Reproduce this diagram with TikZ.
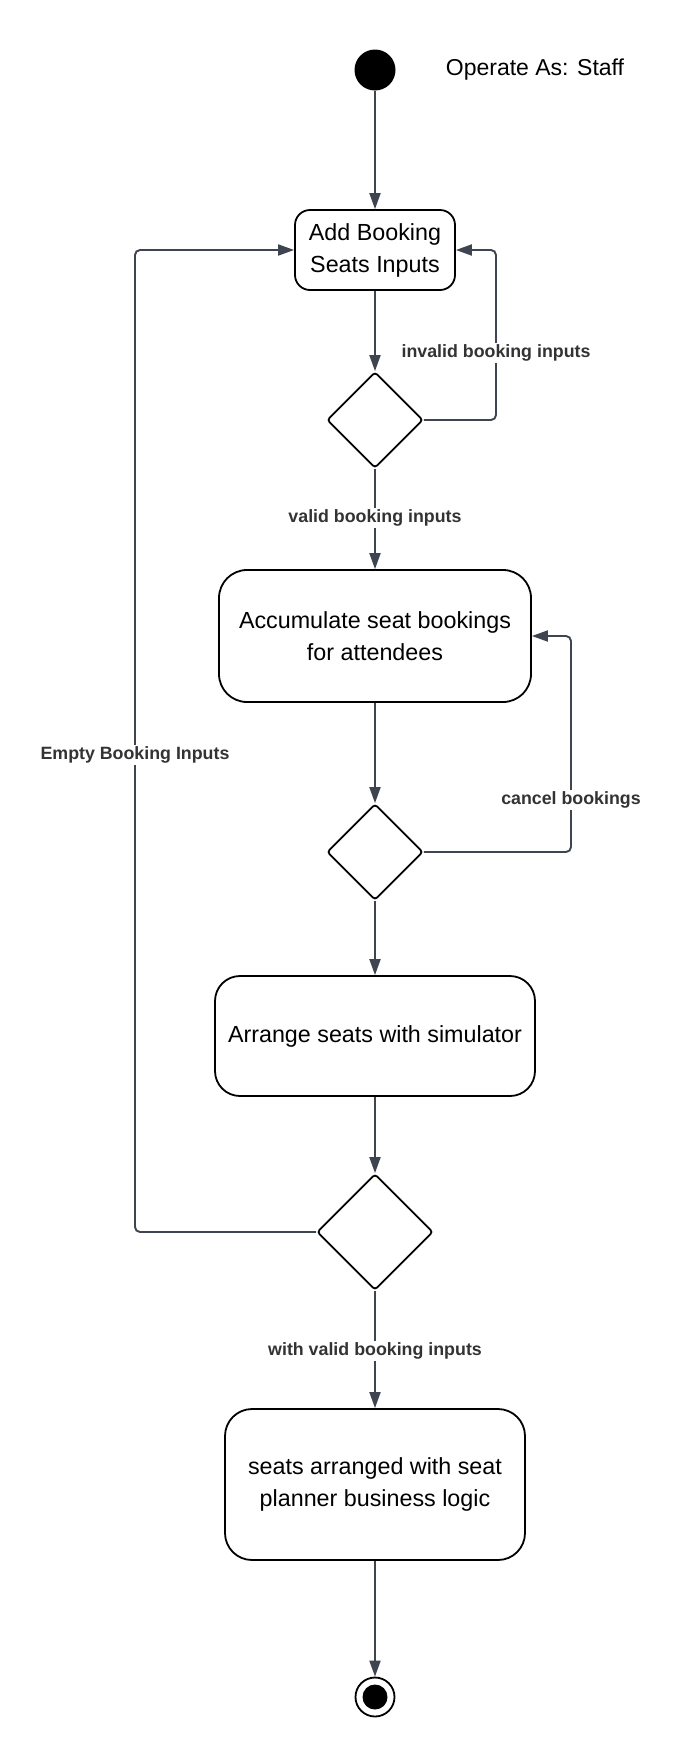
\documentclass[tikz,border=0pt]{standalone}
\usepackage{fontspec}
\setmainfont{Liberation Sans}
\usetikzlibrary{shapes.geometric,arrows.meta}
\definecolor{edgec}{HTML}{3F4451}
\definecolor{labc}{HTML}{333333}
\begin{document}
\begin{tikzpicture}[x=1pt,y=-1pt,
  actbox/.style={draw=black, line width=1.8pt, inner sep=0pt, align=center, text=black,
    font=\fontsize{23.3}{32}\selectfont},
  decnode/.style={diamond, draw=black, line width=1.8pt, rounded corners=3pt, inner sep=0pt,
    minimum width=#1, minimum height=#1},
  flow/.style={draw=edgec, line width=1.9pt, rounded corners=5pt,
    -{Triangle[length=16pt,width=11pt]}},
  lab/.style={fill=white, text=labc, inner sep=2pt,
    font=\bfseries\fontsize{17.8}{20}\selectfont},
  plain/.style={text=black, inner sep=0pt, font=\fontsize{23}{28}\selectfont}
]
\useasboundingbox (0,0) rectangle (685,1757);
\fill[white] (0,0) rectangle (685,1757);

\node[circle, fill=black, minimum size=41pt, inner sep=0pt] (start) at (375,70) {};
\node[plain] (role) at (535,70) {Operate As: Staff};

\node[actbox, rounded corners=15pt, minimum width=160pt, minimum height=80pt] (b1) at (375,250)
  {\raisebox{-2pt}{Add Booking}\\\raisebox{-2pt}{Seats Inputs}};
\node[decnode=96pt] (d1) at (375,420) {};
\node[actbox, rounded corners=28pt, minimum width=312pt, minimum height=132pt] (b2) at (375,636)
  {\raisebox{-2pt}{Accumulate seat bookings}\\\raisebox{-2pt}{for attendees}};
\node[decnode=96pt] (d2) at (375,852) {};
\node[actbox, rounded corners=25pt, minimum width=320pt, minimum height=120pt] (b3) at (375,1036)
  {\raisebox{-2pt}{Arrange seats with simulator}};
\node[decnode=116pt] (d3) at (375,1232) {};
\node[actbox, rounded corners=27pt, minimum width=300pt, minimum height=151pt] (b4) at (375,1484.5)
  {\raisebox{-2pt}{seats arranged with seat}\\\raisebox{-2pt}{planner business logic}};
\node[circle, draw=black, line width=1.8pt, minimum size=39pt, inner sep=0pt] (stop) at (375,1697) {};
\node[circle, fill=black, minimum size=25pt, inner sep=0pt] (stopdot) at (375,1697) {};

\coordinate (k1) at (496,250);
\coordinate (k2) at (571,636);
\coordinate (k3) at (135,250);

\draw[flow] (start) -- (b1.north);
\draw[flow] (b1.south) -- (d1.north);
\draw[flow] (d1.east) -| (k1) -- (b1.east);
\draw[flow] (d1.south) -- (b2.north);
\draw[flow] (b2.south) -- (d2.north);
\draw[flow] (d2.east) -| (k2) -- (b2.east);
\draw[flow] (d2.south) -- (b3.north);
\draw[flow] (b3.south) -- (d3.north);
\draw[flow] (d3.west) -| (k3) -- (b1.west);
\draw[flow] (d3.south) -- (b4.north);
\draw[flow] (b4.south) -- (stop.north);

\node[lab] (l1) at (496,353) {invalid booking inputs};
\node[lab] (l2) at (375,518) {valid booking inputs};
\node[lab] (l3) at (571,800) {cancel bookings};
\node[lab] (l4) at (135,755) {Empty Booking Inputs};
\node[lab] (l5) at (375,1351) {with valid booking inputs};
\end{tikzpicture}
\end{document}
